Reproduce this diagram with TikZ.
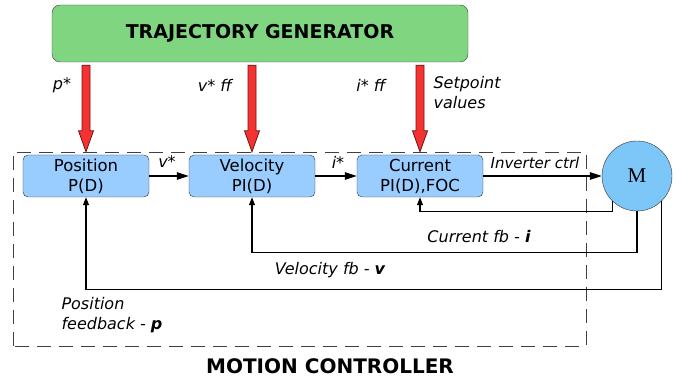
\documentclass[tikz,border=0pt]{standalone}
\usepackage{fontspec}
\setmainfont{DejaVu Sans}
\newfontfamily\motorfont{Liberation Serif}
\usetikzlibrary{arrows.meta,calc}

\definecolor{gengreen}{RGB}{128,214,128}
\definecolor{ctrlblue}{RGB}{153,204,255}
\definecolor{motorblue}{RGB}{125,198,248}
\definecolor{setred}{RGB}{245,50,50}

\begin{document}
\begin{tikzpicture}[x=1pt,y=1pt,
  gen/.style={draw=black!75, fill=gengreen, rounded corners=8pt, minimum width=416pt,
    minimum height=57pt, font=\fontsize{19}{22}\selectfont\bfseries},
  ctrl/.style={draw=black!80, fill=ctrlblue, rounded corners=5pt, minimum width=126pt,
    minimum height=42pt, inner sep=0pt, align=center, font=\fontsize{16.5}{20}\selectfont},
  sig/.style={-{Triangle[length=12pt,width=7.5pt]}, line width=1.1pt},
  fb/.style={-{Triangle[length=8pt,width=6pt]}, line width=1.1pt},
  lbl/.style={font=\fontsize{16}{20}\selectfont\itshape},
  fatarrow/.style={fill=setred, draw=setred!45!black, line width=0.8pt,
    to path={let \p1=(\tikztostart), \p2=(\tikztotarget) in
      (\x2-4pt,\y1-3pt) -- (\x2-4pt,\y2+24pt) -- (\x2-7.5pt,\y2+24pt) -- (\x2,\y2+3pt)
      -- (\x2+7.5pt,\y2+24pt) -- (\x2+4pt,\y2+24pt) -- (\x2+4pt,\y1-3pt) -- cycle}}]
\useasboundingbox (0,0) rectangle (688,383);

% Trajectory generator and setpoints
\node[gen] (gen) at (260,349.5) {TRAJECTORY GENERATOR};

% Motion controller
\draw[dash pattern=on 14pt off 8pt, line width=0.9pt, black!75] (13,37) rectangle (586,231);
\node[font=\fontsize{20}{24}\selectfont\bfseries] (mc) at (330,17) {MOTION CONTROLLER};

\node[ctrl] (posbox) at (86,207) {Position\\P(D)};
\node[ctrl] (velbox) at (252,207) {Velocity\\PI(D)};
\node[ctrl] (curbox) at (420,207) {Current\\PI(D),FOC};
\node[circle, draw=black!80, fill=motorblue, minimum size=70pt,
  font=\motorfont\fontsize{21}{24}\selectfont] (motor) at (637,207) {M};

\draw[fatarrow] (gen.south -| posbox.north) to (posbox.north);
\draw[fatarrow] (gen.south -| velbox.north) to (velbox.north);
\draw[fatarrow] (gen.south -| curbox.north) to (curbox.north);

\node[lbl] at (62,298) {p*};
\node[lbl] at (215,298) {v* ff};
\node[lbl] at (371,298) {i* ff};
\node[lbl, align=left, anchor=west] at (430,290) {Setpoint\\values};

% Forward path
\draw[sig] (posbox) -- (velbox);
\draw[sig] (velbox) -- (curbox);
\draw[sig] (curbox) -- (motor);
\node[lbl] at (167,221) {v*};
\node[lbl] at (338,221) {i*};
\node[lbl, font=\fontsize{15}{18}\selectfont\itshape] at (535,220) {Inverter ctrl};

% Feedback paths
\draw[fb] (motor.-135) -- ++(0,-10.5) -| (curbox.south);
\draw[fb] (motor.south) -- ++(0,-41) -| (velbox.south);
\draw[fb] (motor.-45) -- ++(0,-89) -| (posbox.south);
\node[lbl] at (479,146) {Current fb - \textbf{i}};
\node[lbl] at (330,113) {Velocity fb - \textbf{v}};
\node[lbl, align=left, anchor=west] at (58,68) {Position\\feedback - \textbf{p}};
\end{tikzpicture}
\end{document}
